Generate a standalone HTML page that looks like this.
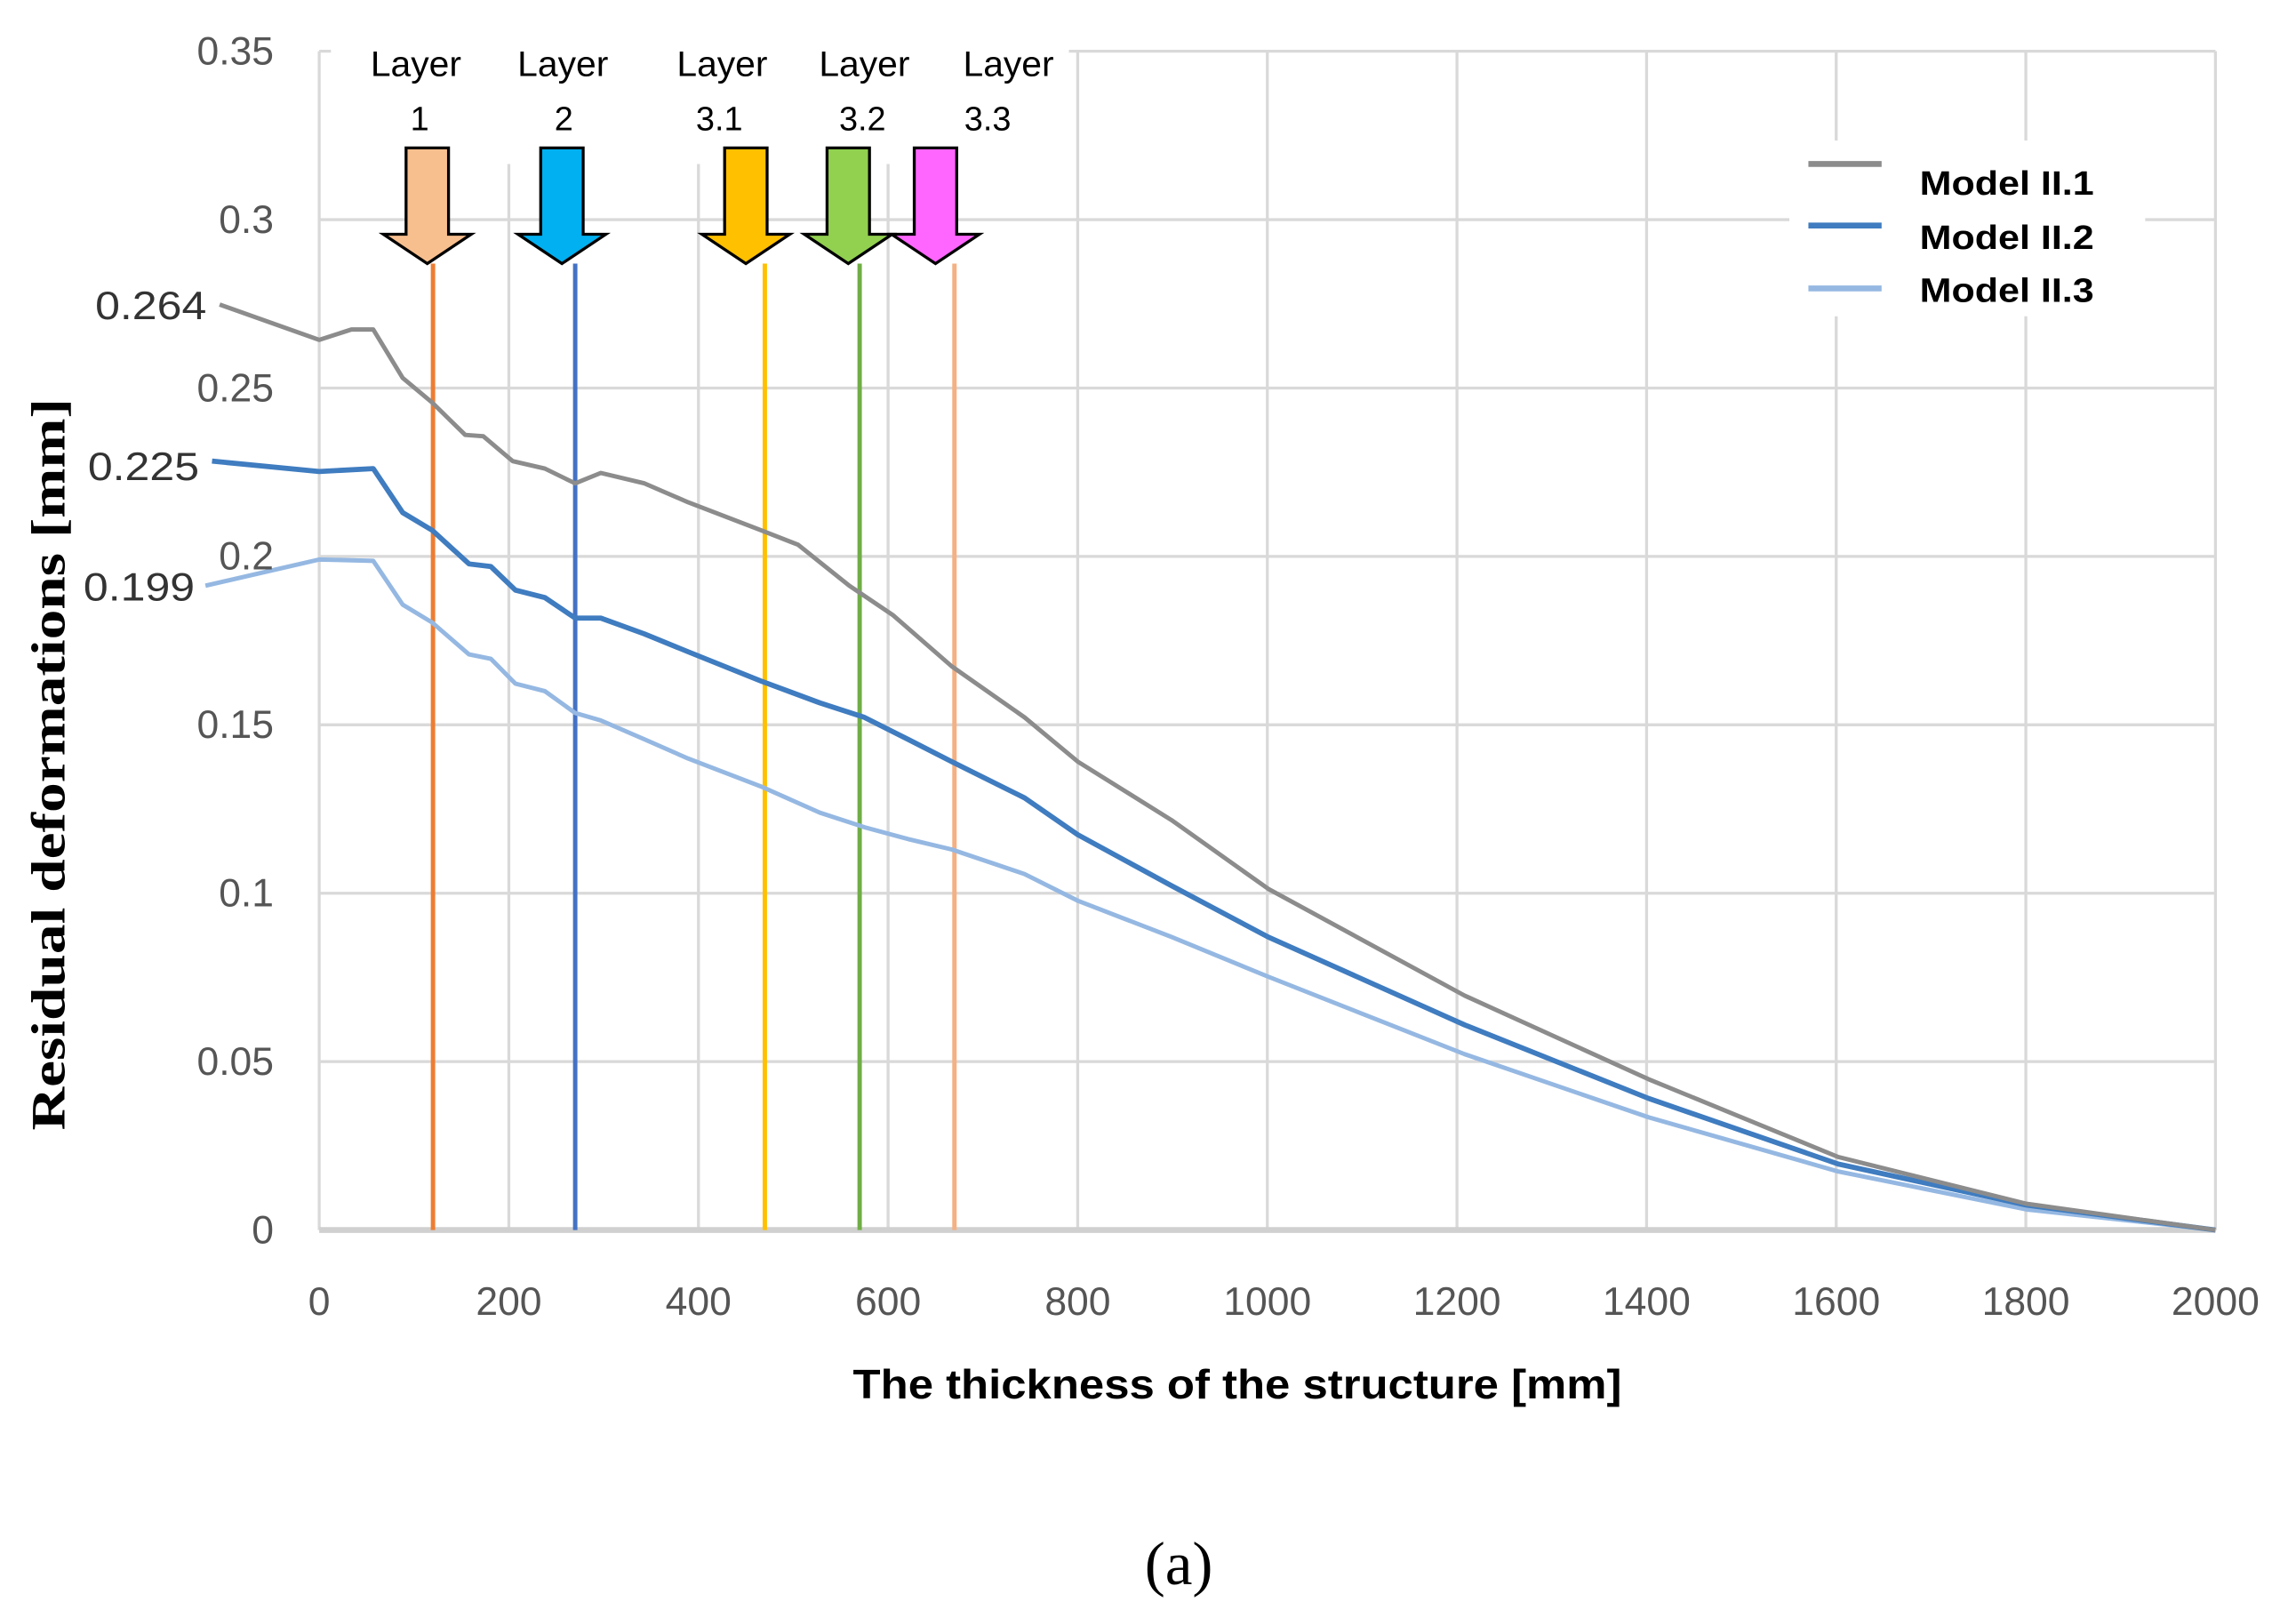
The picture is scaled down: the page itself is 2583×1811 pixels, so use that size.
<!DOCTYPE html>
<html><head><meta charset="utf-8"><style>
html,body{margin:0;padding:0;background:#fff;}
svg{display:block;}
text{font-family:"Liberation Sans",sans-serif;}
</style></head><body>
<svg id="chart" width="2583" height="1811" viewBox="0 0 1568 1099.5" preserveAspectRatio="none" xmlns="http://www.w3.org/2000/svg">
<g id="grid"></g>
<rect x="226" y="0" width="504" height="112" fill="#fff"/>
<rect x="1222" y="96" width="243" height="120" fill="#fff"/>
<g id="layers"></g>
<g id="series"></g>
<g id="ticks"></g>
<text x="141" y="218" text-anchor="end" font-size="27" fill="#333" textLength="76" lengthAdjust="spacingAndGlyphs">0.264</text>
<text x="136" y="328" text-anchor="end" font-size="27" fill="#333" textLength="76" lengthAdjust="spacingAndGlyphs">0.225</text>
<text x="133" y="410" text-anchor="end" font-size="27" fill="#333" textLength="76" lengthAdjust="spacingAndGlyphs">0.199</text>
<text transform="translate(44,522) rotate(-90)" text-anchor="middle" font-size="33" font-weight="bold" style="font-family:'Liberation Serif',serif" fill="#000" textLength="500" lengthAdjust="spacingAndGlyphs">Residual deformations [mm]</text>
<text x="845" y="955" text-anchor="middle" font-size="28" font-weight="bold" fill="#000" textLength="525" lengthAdjust="spacingAndGlyphs">The thickness of the structure [mm]</text>
<text x="805" y="1082" text-anchor="middle" font-size="42" style="font-family:'Liberation Serif',serif" fill="#000">(a)</text>
<g>
<line x1="1235" y1="112" x2="1285" y2="112" stroke="#8c8c8c" stroke-width="4"/>
<line x1="1235" y1="154" x2="1285" y2="154" stroke="#3f7cc0" stroke-width="4"/>
<line x1="1235" y1="197" x2="1285" y2="197" stroke="#95b8e2" stroke-width="4"/>
<text x="1311" y="133" font-size="23" font-weight="bold" fill="#000" textLength="119" lengthAdjust="spacingAndGlyphs">Model II.1</text>
<text x="1311" y="170" font-size="23" font-weight="bold" fill="#000" textLength="119" lengthAdjust="spacingAndGlyphs">Model II.2</text>
<text x="1311" y="206" font-size="23" font-weight="bold" fill="#000" textLength="119" lengthAdjust="spacingAndGlyphs">Model II.3</text>
</g>
</svg>
<script>
const xTicks = [0,200,400,600,800,1000,1200,1400,1600,1800,2000];
const yTicks = [0,0.05,0.1,0.15,0.2,0.25,0.3,0.35];
const yTickLabels = ["0","0.05","0.1","0.15","0.2","0.25","0.3","0.35"];
const xM1 = [-105,0,34,57,88,119,154,173,204,238,270,297,343,389,466,505,559,605,667,744,800,899,1001,1208,1402,1602,1801,2000];
const yM1 = [0.2748,0.2643,0.2674,0.2674,0.2530,0.2457,0.2361,0.2357,0.2283,0.2261,0.2217,0.2248,0.2217,0.2161,0.2078,0.2035,0.1913,0.1826,0.1674,0.1522,0.1391,0.1217,0.1013,0.0696,0.0448,0.0217,0.0078,0];
const xM2 = [-113,0,57,88,119,158,181,207,238,270,297,343,389,466,528,575,621,667,744,800,899,1001,1208,1402,1602,1801,2000];
const yM2 = [0.2283,0.2252,0.2261,0.2130,0.2078,0.1978,0.1970,0.1900,0.1878,0.1817,0.1817,0.1770,0.1717,0.1630,0.1565,0.1522,0.1457,0.1391,0.1283,0.1174,0.1022,0.0870,0.0609,0.0391,0.0196,0.0074,0];
const xM3 = [-120,0,57,88,119,158,181,207,238,270,297,343,389,466,528,575,621,667,744,800,899,1001,1208,1402,1602,1801,2000];
const yM3 = [0.1913,0.1991,0.1987,0.1857,0.1804,0.1709,0.1696,0.1622,0.1600,0.1535,0.1513,0.1457,0.1400,0.1317,0.1239,0.1196,0.1161,0.1130,0.1057,0.0978,0.0870,0.0752,0.0522,0.0335,0.0174,0.0061,0];
const layerNames = ["1","2","3.1","3.2","3.3"];
const layerPos = [120,270,470,570,670];
const layerArrowPos = [114,256,450,558,650];
const layerLabelPos = [102,257,425,575,727];
const layerNumPos = [106,258,422,573,705];

const NS="http://www.w3.org/2000/svg";
const X0=218,X1=1513,Y0=840,Y1=35;
const sx=v=>X0+(v/2000)*(X1-X0);
const sy=v=>Y0-(v/0.35)*(Y0-Y1);
function mk(tag,attrs,parent){const e=document.createElementNS(NS,tag);for(const k in attrs)e.setAttribute(k,attrs[k]);parent.appendChild(e);return e;}
const grid=document.getElementById('grid'),ticks=document.getElementById('ticks'),series=document.getElementById('series'),layers=document.getElementById('layers');
yTicks.forEach((v,i)=>{
  if(v>0){const l=mk('line',{x1:X0,x2:X1,y1:sy(v),y2:sy(v),stroke:'#d9d9d9','stroke-width':2},grid);
  
  }
  const t=mk('text',{x:187,y:sy(v)+9,'text-anchor':'end','font-size':27,fill:'#555'},ticks);
  t.textContent=yTickLabels[i];
  
  
});
xTicks.forEach(v=>{
  const l=mk('line',{x1:sx(v),x2:sx(v),y1:Y1,y2:Y0,stroke:'#d9d9d9','stroke-width':2},grid);
  
  
  const t=mk('text',{x:sx(v),y:898,'text-anchor':'middle','font-size':27,fill:'#555'},ticks);
  t.textContent=String(v);
  
  
});
const ax=mk('line',{x1:X0,x2:X1,y1:Y0,y2:Y0,stroke:'#d0d0d0','stroke-width':4},grid);


const lineCols=['#ED7D31','#4472C4','#FFC000','#70AD47','#F4B183'];
const arrowCols=['#F8BF8E','#00B0F0','#FFC000','#92D050','#FF66FF'];
layerPos.forEach((p,i)=>{
  const l=mk('line',{x1:sx(p),x2:sx(p),y1:180,y2:Y0,stroke:lineCols[i],'stroke-width':3},layers);
  
  
  const c=sx(layerArrowPos[i]);
  const a=mk('path',{d:`M${c-14.5},101 L${c+14.5},101 L${c+14.5},160 L${c+30},160 L${c},180 L${c-30},160 L${c-14.5},160 Z`,fill:arrowCols[i],stroke:'#000','stroke-width':2},layers);
  
  
  const t1=mk('text',{x:sx(layerLabelPos[i]),y:52,'text-anchor':'middle','font-size':24,fill:'#000',textLength:62,lengthAdjust:'spacingAndGlyphs'},layers);
  t1.textContent='Layer';
  
  
  const t2=mk('text',{x:sx(layerNumPos[i]),y:89,'text-anchor':'middle','font-size':23,fill:'#000'},layers);
  t2.textContent=layerNames[i];
  
  
});
function drawSeries(xs,ys,col,w,name){
  const d=xs.map((x,i)=>(i?'L':'M')+sx(x).toFixed(1)+','+sy(ys[i]).toFixed(1)).join(' ');
  const p=mk('path',{d:d,fill:'none',stroke:col,'stroke-width':w,'stroke-linejoin':'round'},series);
  
  
}
drawSeries(xM3,yM3,'#95b8e2',3,'series-model-ii-3');
drawSeries(xM2,yM2,'#3f7cc0',3.5,'series-model-ii-2');
drawSeries(xM1,yM1,'#8c8c8c',3,'series-model-ii-1');
</script>
</body></html>
